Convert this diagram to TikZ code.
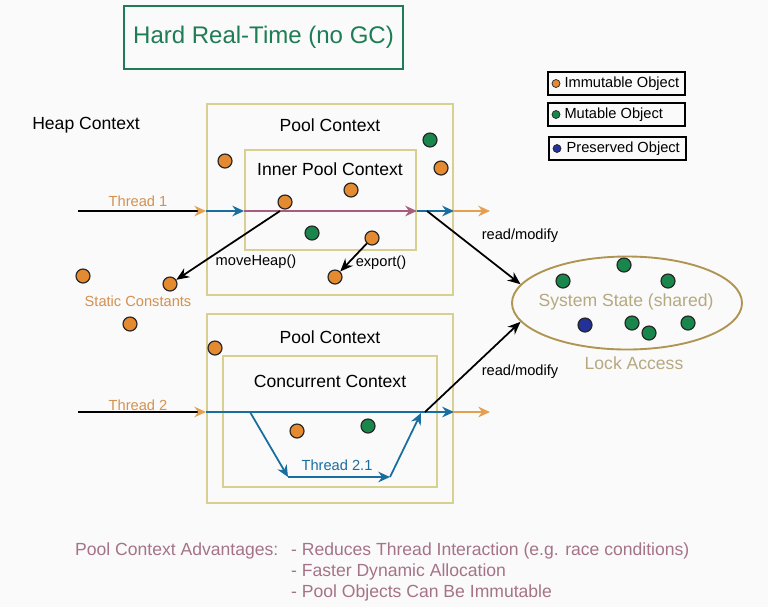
\documentclass[tikz,border=0pt]{standalone}
\usepackage{fontspec}
\setmainfont{Liberation Sans}
\usetikzlibrary{shapes.geometric, arrows.meta, positioning}
\definecolor{bgwhite}{RGB}{250,250,250}
\definecolor{rtgreen}{RGB}{30,125,85}
\definecolor{poolyellow}{RGB}{215,208,145}
\definecolor{immorange}{RGB}{228,138,48}
\definecolor{mutgreen}{RGB}{25,135,75}
\definecolor{presblue}{RGB}{35,50,150}
\definecolor{thrblue}{RGB}{25,110,160}
\definecolor{thrmauve}{RGB}{165,95,125}
\definecolor{throrange}{RGB}{228,160,80}
\definecolor{labelorange}{RGB}{212,145,80}
\definecolor{systan}{RGB}{182,168,128}
\definecolor{sysedge}{RGB}{176,148,82}
\definecolor{advmauve}{RGB}{165,115,135}

\begin{document}
\begin{tikzpicture}[
  x=0.03cm, y=-0.03cm,
  bigtxt/.style={font=\fontsize{15}{18}\selectfont},
  smalltxt/.style={font=\fontsize{12.5}{15}\selectfont},
  poolbox/.style={draw=poolyellow, line width=1.6pt},
  obj/.style={circle, draw=black!85, line width=1pt, minimum size=0.42cm, inner sep=0pt},
  imm/.style={obj, fill=immorange},
  mut/.style={obj, fill=mutgreen},
  pres/.style={obj, fill=presblue},
  keydot/.style={circle, draw=black!85, line width=0.6pt, minimum size=0.24cm, inner sep=0pt},
  keybox/.style={draw, line width=1.6pt, minimum width=4.11cm, minimum height=0.69cm},
  thr/.style={line width=1.5pt},
  thrtip/.style={-{Stealth[length=10pt, width=9pt, color=#1]}},
  call/.style={line width=1.5pt, -{Stealth[length=11pt, width=9pt]}}
]
  \useasboundingbox[fill=bgwhite] (0,0) rectangle (768,607);

  % title and contexts
  \node[draw=rtgreen, line width=1.6pt, minimum width=8.37cm, minimum height=1.89cm,
        text=rtgreen, font=\fontsize{20.5}{24}\selectfont] (title) at (263.5,37.5) {Hard Real-Time (no GC)};
  \node[poolbox, minimum width=7.38cm, minimum height=5.73cm] (pool1) at (330,199.5) {};
  \node[poolbox, minimum width=5.13cm, minimum height=3cm] (inner) at (330.5,200) {};
  \node[poolbox, minimum width=7.38cm, minimum height=5.67cm] (pool2) at (330,408.5) {};
  \node[poolbox, minimum width=6.42cm, minimum height=3.93cm] (conc) at (330,421.5) {};

  \node[bigtxt] (heaplbl) at (86,125) {Heap Context};
  \node[bigtxt] (pool1lbl) at (330,125) {Pool Context};
  \node[bigtxt] (innerlbl) at (330,169) {Inner Pool Context};
  \node[bigtxt] (pool2lbl) at (330,337) {Pool Context};
  \node[bigtxt] (conclbl) at (330,381) {Concurrent Context};

  % thread 1
  \coordinate (t1start) at (78,211);
  \coordinate (t1end) at (490,211);
  \draw[thr, thrtip=throrange] (t1start) -- (pool1.west |- t1start);
  \draw[thr, thrblue, thrtip=thrblue] (pool1.west |- t1start) -- (inner.west |- t1start);
  \draw[thr, thrmauve, thrtip=thrmauve] (inner.west |- t1start) -- (inner.east |- t1start);
  \draw[thr, thrblue, thrtip=thrblue] (inner.east |- t1start) -- (pool1.east |- t1start);
  \draw[thr, throrange, thrtip=throrange] (pool1.east |- t1start) -- (t1end);
  \node[smalltxt, text=labelorange] (t1lbl) at (138,201) {Thread 1};

  % thread 2 and 2.1
  \coordinate (t2start) at (78,412);
  \coordinate (t2end) at (490,412);
  \coordinate (fork) at (250,412);
  \coordinate (dipL) at (288,477);
  \coordinate (dipR) at (390,477);
  \coordinate (join) at (421,413);
  \draw[thr, thrtip=throrange] (t2start) -- (pool2.west |- t2start);
  \draw[thr, thrblue, thrtip=thrblue] (pool2.west |- t2start) -- (pool2.east |- t2start);
  \draw[thr, throrange, thrtip=throrange] (pool2.east |- t2start) -- (t2end);
  \draw[thr, thrblue, thrtip=thrblue] (fork) -- (dipL);
  \draw[thr, thrblue, thrtip=thrblue] (dipL) -- (dipR);
  \draw[thr, thrblue, thrtip=thrblue] (dipR) -- (join);
  \node[smalltxt, text=labelorange] (t2lbl) at (138,405) {Thread 2};
  \node[smalltxt, text=thrblue] (t21lbl) at (337,465) {Thread 2.1};

  % objects
  \node[imm] (o1) at (225,161) {};
  \node[mut] (m1) at (430,140) {};
  \node[imm] (o2) at (441,168) {};
  \node[imm] (o3) at (285,202) {};
  \node[imm] (o4) at (351,190) {};
  \node[mut] (m2) at (312,233) {};
  \node[imm] (o5) at (372,238) {};
  \node[imm] (o6) at (335,277) {};
  \node[imm] (sc1) at (83,276) {};
  \node[imm] (sc2) at (170,284) {};
  \node[imm] (sc3) at (130,324) {};
  \node[imm] (o7) at (215,348) {};
  \node[imm] (o8) at (297,431) {};
  \node[mut] (m3) at (368,426) {};
  \node[smalltxt, text=labelorange] (sclbl) at (138,301) {Static Constants};

  % shared state
  \node[ellipse, draw=sysedge, line width=1.6pt, minimum width=6.9cm, minimum height=2.79cm,
        inner sep=0pt] (sys) at (627,303) {};
  \node[bigtxt, text=systan] (syslbl) at (626,302) {System State (shared)};
  \node[mut] (s1) at (563,281) {};
  \node[mut] (s2) at (624,265) {};
  \node[mut] (s3) at (668,281) {};
  \node[mut] (s4) at (632,323) {};
  \node[mut] (s5) at (649,333) {};
  \node[mut] (s6) at (688,323) {};
  \node[pres] (s7) at (585,325) {};
  \node[bigtxt, text=systan] (locklbl) at (634,363) {Lock Access};

  % calls
  \coordinate (mvfrom) at (280,211);
  \coordinate (rm1) at (427,211);
  \coordinate (rm2) at (425,412);
  \draw[call] (mvfrom) -- (sc2);
  \draw[call] (o5) -- (o6);
  \draw[call] (rm1) -- (sys.170);
  \draw[call] (rm2) -- (sys.190);
  \node[smalltxt] (mvlbl) at (256,262) {moveHeap()};
  \node[smalltxt] (exlbl) at (381,263) {export()};
  \node[smalltxt] (rm1lbl) at (520,236) {read/modify};
  \node[smalltxt] (rm2lbl) at (520,372) {read/modify};

  % legend
  \node[keybox] (keyimm) at (616.5,83.5) {};
  \node[keybox] (keymut) at (616.5,114.5) {};
  \node[keybox] (keypres) at (617.5,148.5) {};
  \node[keydot, fill=immorange] (kdimm) at (556,83.5) {};
  \node[keydot, fill=mutgreen] (kdmut) at (556,114.5) {};
  \node[keydot, fill=presblue] (kdpres) at (557,148.5) {};
  \node[smalltxt, right=0pt of kdimm] (ktimm) {Immutable Object};
  \node[smalltxt, right=0pt of kdmut] (ktmut) {Mutable Object};
  \node[smalltxt, right=1pt of kdpres] (ktpres) {Preserved Object};

  % advantages
  \node[bigtxt, text=advmauve, anchor=west] (advhead) at (71,551) {Pool Context Advantages:};
  \node[bigtxt, text=advmauve, anchor=west] (adv1) at (287,551) {- Reduces Thread Interaction (e.g. race conditions)};
  \node[bigtxt, text=advmauve, anchor=west] (adv2) at (287,572) {- Faster Dynamic Allocation};
  \node[bigtxt, text=advmauve, anchor=west] (adv3) at (287,593) {- Pool Objects Can Be Immutable};
\end{tikzpicture}
\end{document}
